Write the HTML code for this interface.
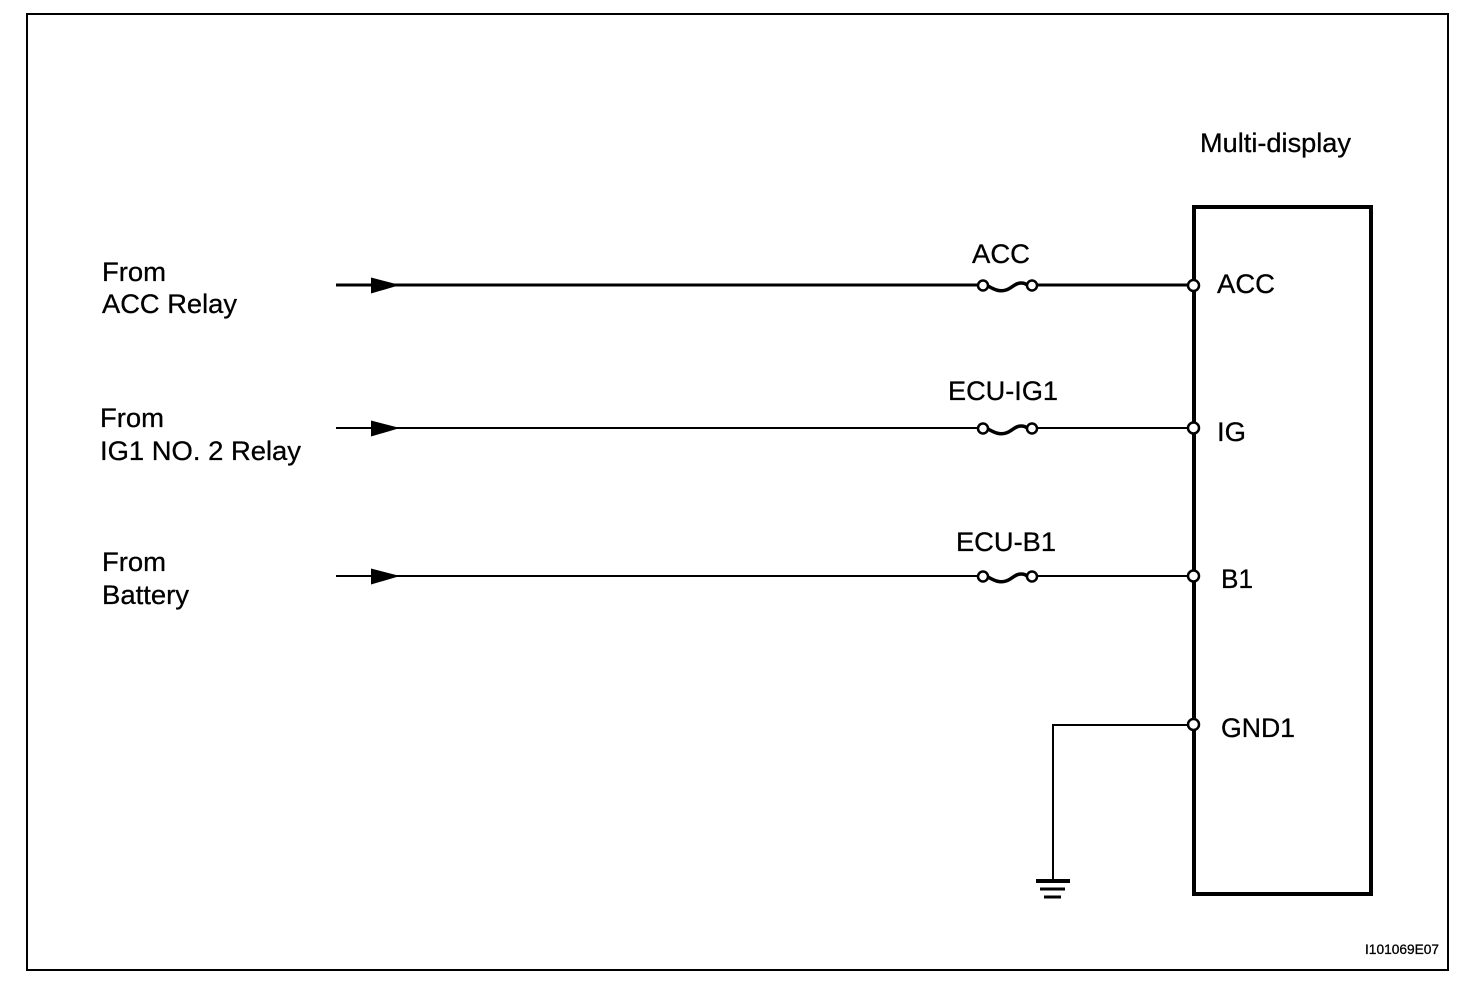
<!DOCTYPE html>
<html><head><meta charset="utf-8"><style>
html,body{margin:0;padding:0;background:#fff;width:1472px;height:986px;overflow:hidden}
svg{display:block}
text{font-family:"Liberation Sans",Arial,sans-serif;font-size:27px;fill:#000;stroke:#000;stroke-width:.3px}
</style></head><body>
<svg width="1472" height="986" viewBox="0 0 1472 986" xmlns="http://www.w3.org/2000/svg">
<rect width="1472" height="986" fill="#fff"/>
<g shape-rendering="crispEdges" fill="none" stroke="#000">
<rect x="27" y="14" width="1421" height="956" stroke-width="2"/>
<rect x="1194" y="207" width="177" height="687" stroke-width="4"/>
<path d="M336 285H978M1036 285H1190" stroke-width="3"/>
<path d="M336 428H978M1036 428H1190M336 576H978M1036 576H1190" stroke-width="2"/>
<path d="M1190 725H1053V881" stroke-width="2"/>
<path d="M1036 881H1070" stroke-width="4"/>
<path d="M1040 889H1065" stroke-width="3"/>
<path d="M1044 897H1061" stroke-width="3"/>
</g>
<g fill="#000">
<path d="M371 277.500L400 285L371 293.500Z"/>
<path d="M371 420.500L400 428L371 436.500Z"/>
<path d="M371 568.500L400 576L371 584.500Z"/>
</g>
<g fill="none" stroke="#000" stroke-width="3.500">
<path d="M988 286C995 290 1000 292 1006 290C1012 288 1015 283 1021 283C1024 283 1026 284 1027 285"/>
<path d="M988 429C995 433 1000 435 1006 433C1012 431 1015 426 1021 426C1024 426 1026 427 1027 428"/>
<path d="M988 577C995 581 1000 583 1006 581C1012 579 1015 574 1021 574C1024 574 1026 575 1027 576"/>
</g>
<g fill="#fff" stroke="#000" stroke-width="2.500">
<circle cx="983" cy="285.500" r="5"/><circle cx="1032" cy="285.500" r="5"/>
<circle cx="983" cy="428.500" r="5"/><circle cx="1032" cy="428.500" r="5"/>
<circle cx="983" cy="576.500" r="5"/><circle cx="1032" cy="576.500" r="5"/>
<circle cx="1193.500" cy="285.500" r="5.500"/>
<circle cx="1193.500" cy="428" r="5.500"/>
<circle cx="1193.500" cy="576" r="5.500"/>
<circle cx="1193.500" cy="724.500" r="5.500"/>
</g>
<text x="1200" y="152" textLength="151" lengthAdjust="spacingAndGlyphs">Multi-display</text>
<text x="102" y="281" textLength="64" lengthAdjust="spacingAndGlyphs">From</text>
<text x="102" y="313" textLength="135" lengthAdjust="spacingAndGlyphs">ACC Relay</text>
<text x="100" y="427" textLength="64" lengthAdjust="spacingAndGlyphs">From</text>
<text x="100" y="460" textLength="201" lengthAdjust="spacingAndGlyphs">IG1 NO. 2 Relay</text>
<text x="102" y="571" textLength="64" lengthAdjust="spacingAndGlyphs">From</text>
<text x="102" y="604" textLength="87" lengthAdjust="spacingAndGlyphs">Battery</text>
<text x="972" y="263" textLength="58" lengthAdjust="spacingAndGlyphs">ACC</text>
<text x="948" y="400" textLength="110" lengthAdjust="spacingAndGlyphs">ECU-IG1</text>
<text x="956" y="551" textLength="100" lengthAdjust="spacingAndGlyphs">ECU-B1</text>
<text x="1217" y="293" textLength="58" lengthAdjust="spacingAndGlyphs">ACC</text>
<text x="1217" y="441" textLength="29" lengthAdjust="spacingAndGlyphs">IG</text>
<text x="1221" y="588" textLength="32" lengthAdjust="spacingAndGlyphs">B1</text>
<text x="1221" y="737" textLength="74" lengthAdjust="spacingAndGlyphs">GND1</text>
<text x="1365" y="954" style="font-size:13.500px" textLength="74" lengthAdjust="spacingAndGlyphs">I101069E07</text>
</svg>
</body></html>
